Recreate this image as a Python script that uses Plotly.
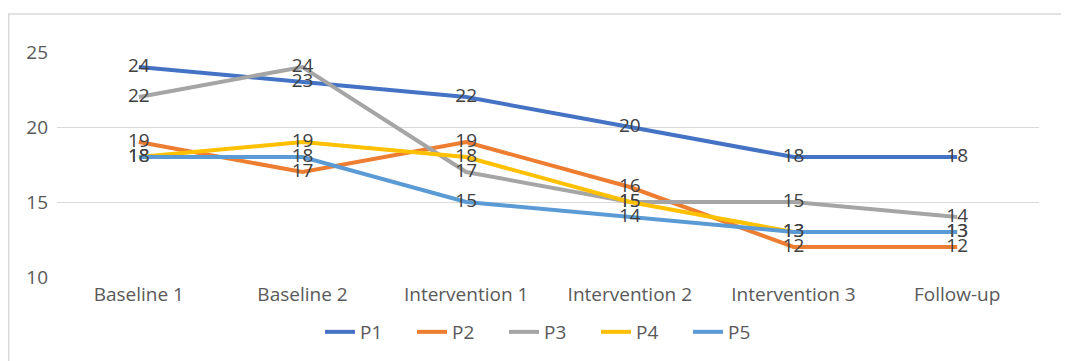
import plotly.graph_objects as go

categories = ["Baseline 1", "Baseline 2", "Intervention 1", "Intervention 2", "Intervention 3", "Follow-up"]
series_names = ["P1", "P2", "P3", "P4", "P5"]
p1 = [24, 23, 22, 20, 18, 18]
p2 = [19, 17, 19, 16, 12, 12]
p3 = [22, 24, 17, 15, 15, 14]
p4 = [18, 19, 18, 15, 13, 13]
p5 = [18, 18, 15, 14, 13, 13]
y_ticks = [10, 15, 20, 25]

colors = ["#4472C4", "#ED7D31", "#A5A5A5", "#FFC000", "#5B9BD5"]
FONT = "Open Sans"

# page body has an 8px margin: offset everything accordingly
OFF = 8
L, R, T, B = 57 - OFF, 1039 - OFF, 52 - OFF, 277 - OFF
W, H = 1069, 361
PW, PH = R - L, B - T

fig = go.Figure()
for name, vals, col in zip(series_names, [p1, p2, p3, p4, p5], colors):
    fig.add_trace(go.Scatter(
        x=list(range(len(categories))), y=vals, name=name, mode="lines+text",
        line=dict(color=col, width=4),
        text=[str(v) for v in vals], textposition="middle center",
        textfont=dict(family=FONT, size=19, color="#404040"),
        cliponaxis=False,
    ))

fig.update_layout(
    width=W, height=H,
    margin=dict(l=L, r=W - R, t=T, b=H - B),
    paper_bgcolor="white", plot_bgcolor="white",
    font=dict(family=FONT, size=19, color="#595959"),
    xaxis=dict(tickmode="array", tickvals=list(range(len(categories))), ticktext=categories,
               range=[-0.5, 5.5], showgrid=False, zeroline=False, showline=False,
               ticks="", ticklabelstandoff=4, tickfont=dict(size=19, color="#595959")),
    yaxis=dict(range=[10, 25], tickvals=y_ticks, showgrid=True, gridcolor="#D9D9D9", gridwidth=1.3,
               zeroline=False, showline=False, ticks="", ticklabelstandoff=8,
               tickfont=dict(size=19, color="#595959")),
    legend=dict(orientation="h", x=(550 - 57) / 982, xanchor="center",
                y=(277 - 332) / 225, yanchor="middle",
                font=dict(size=19, color="#595959"), entrywidth=47, entrywidthmode="pixels",
                itemclick=False),
    showlegend=True,
    shapes=[dict(type="rect", xref="paper", yref="paper",
                 x0=(0.8 - L) / PW, x1=(1090 - 57) / PW,
                 y0=(277 - 390) / PH, y1=1 + (52 - 14) / PH,
                 line=dict(color="#D9D9D9", width=1.5), fillcolor="rgba(0,0,0,0)", layer="below")],
)

fig.write_html("out.html")
